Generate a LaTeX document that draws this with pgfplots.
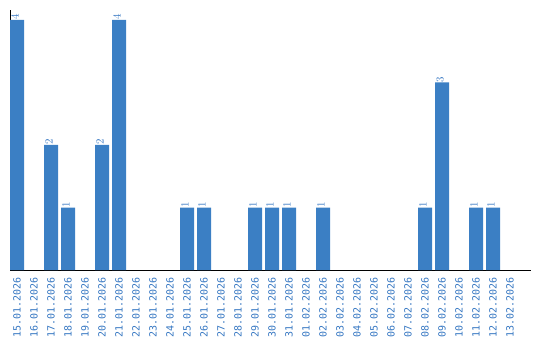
\documentclass[border=0pt]{standalone}
\usepackage{pgfplots}
\pgfplotsset{compat=1.18}
\usepackage{fontspec}
\setmainfont{DejaVu Sans Mono}
\definecolor{barblue}{HTML}{3B7FC4}
\definecolor{txtblue}{HTML}{3677C2}
\begin{document}
\begin{tikzpicture}[x=1bp,y=1bp]
\path[use as bounding box] (0,0) rectangle (540,340);
\begin{axis}[
  at={(10bp,70bp)}, anchor=south west,
  scale only axis, width=521bp, height=260bp,
  xmin=-0.4118, xmax=30.235, ymin=0, ymax=4.16,
  axis x line*=bottom, axis y line*=left,
  axis line style={black, line width=1bp, -},
  ytick=\empty,
  xtick={0,...,29},
  xticklabels={15.01.2026,16.01.2026,17.01.2026,18.01.2026,19.01.2026,20.01.2026,21.01.2026,22.01.2026,23.01.2026,24.01.2026,25.01.2026,26.01.2026,27.01.2026,28.01.2026,29.01.2026,30.01.2026,31.01.2026,01.02.2026,02.02.2026,03.02.2026,04.02.2026,05.02.2026,06.02.2026,07.02.2026,08.02.2026,09.02.2026,10.02.2026,11.02.2026,12.02.2026,13.02.2026},
  x tick label style={rotate=90, anchor=east, font=\fontsize{10}{10}\selectfont, text=txtblue, inner sep=0pt},
  major tick length=0pt,
  xticklabel shift=7bp,
  ybar, bar width=14bp, bar shift=0pt,
  nodes near coords,
  every node near coord/.append style={rotate=90, anchor=west, font=\fontsize{10.5}{10.5}\selectfont, text=txtblue, inner sep=0pt, yshift=2bp},
  nodes near coords align={vertical},
  clip=false,
]
\addplot[fill=barblue, draw=none] coordinates {
(0,4) (2,2) (3,1) (5,2) (6,4) (10,1) (11,1) (14,1) (15,1) (16,1) (18,1) (24,1) (25,3) (27,1) (28,1)
};
\end{axis}
\end{tikzpicture}
\end{document}
